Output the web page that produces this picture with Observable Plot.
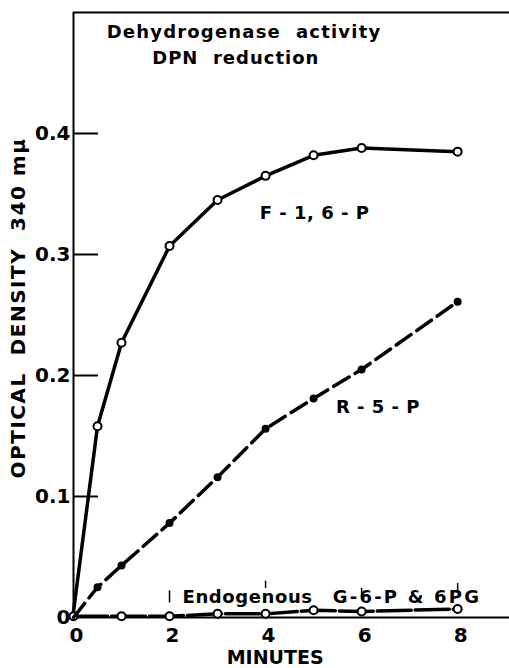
<!DOCTYPE html>
<html>
<head>
<meta charset="utf-8">
<script src="https://cdn.jsdelivr.net/npm/d3@7"></script>
<script src="https://cdn.jsdelivr.net/npm/@observablehq/plot@0.6"></script>
<style>
  html, body { margin: 0; padding: 0; background: white; }
  #chart svg { display: block; }
</style>
</head>
<body>
<div id="chart"></div>
<script>
// Data
const minutesF = [0, 0.5, 1, 2, 3, 4, 5, 6, 8];
const f16p = [0.005, 0.158, 0.227, 0.307, 0.345, 0.365, 0.382, 0.388, 0.385];

const minutesR = [0, 0.5, 1, 2, 3, 4, 5, 6, 8];
const r5p = [0, 0.025, 0.043, 0.078, 0.116, 0.156, 0.181, 0.205, 0.261];

const minutesE = [0, 1, 2, 3, 4, 5, 6, 8];
const endo = [0.001, 0.001, 0.001, 0.003, 0.003, 0.006, 0.005, 0.007];

const xTicks = [0, 2, 4, 6, 8];
const yTicks = [0, 0.1, 0.2, 0.3, 0.4];
const yTickMarks = [0.1, 0.2, 0.3, 0.4];

// annotations anchored at their start (left edge)
const startText = ["Dehydrogenase  activity", "Endogenous", "G-6-P & 6PG"];
const startX = [0.69, 2.27, 5.4];
const startY = [0.484, 0.0165, 0.0165];
// annotations anchored at their middle
const midText = ["DPN  reduction", "F - 1, 6 - P", "R - 5 - P"];
const midX = [3.38, 5.02, 6.34];
const midY = [0.462, 0.334, 0.174];

const smallMarkX = [2, 4, 6, 8];
const smallMarkY1 = [0.012, 0.024, 0.017, 0.021];
const smallMarkY2 = [0.022, 0.030, 0.024, 0.028];

const F = minutesF.map((m, i) => ({m, v: f16p[i]}));
const R = minutesR.map((m, i) => ({m, v: r5p[i]}));
const E = minutesE.map((m, i) => ({m, v: endo[i]}));
const annoStart = startText.map((t, i) => ({t, x: startX[i], y: startY[i]}));
const annoMid = midText.map((t, i) => ({t, x: midX[i], y: midY[i]}));
const marks = smallMarkX.map((x, i) => ({x, y1: smallMarkY1[i], y2: smallMarkY2[i]}));

const font = "DejaVu Sans, sans-serif";

const chart = Plot.plot({
  width: 509,
  height: 668,
  marginLeft: 73,
  marginRight: 0,
  marginTop: 12,
  marginBottom: 51,
  x: {domain: [0, 9.08]},
  y: {domain: [0, 0.5]},
  style: {fontFamily: font, fontSize: "20px", fontWeight: "bold", background: "white", color: "black"},
  marks: [
    // frame
    Plot.ruleX([0], {stroke: "black", strokeWidth: 2}),
    Plot.ruleY([0], {stroke: "black", strokeWidth: 2}),
    Plot.ruleY([0.5], {stroke: "black", strokeWidth: 2}),
    // inward y ticks
    Plot.ruleY(yTickMarks, {x1: 0, x2: 0.52, stroke: "black", strokeWidth: 2}),
    Plot.axisY({ticks: yTicks, tickSize: 0, tickPadding: 3, tickFormat: d => d === 0 ? "0" : d.toFixed(1), label: null, fontSize: 20, fontWeight: "bold"}),
    Plot.axisX({ticks: xTicks, tickSize: 0, tickPadding: 10, label: null, fontSize: 20, fontWeight: "bold", dx: 3}),
    Plot.text(["MINUTES"], {frameAnchor: "bottom", lineAnchor: "middle", x: 4.2, dy: 40, fontSize: 19, fontWeight: "bold", fontFamily: font}),
    Plot.text(["OPTICAL  DENSITY  340 mμ"], {frameAnchor: "left", textAnchor: "middle", lineAnchor: "middle", rotate: -90, dx: -55, dy: -7, fontSize: 20, fontFamily: font, fontWeight: "bold"}),
    // series
    Plot.line(E, {x: "m", y: "v", stroke: "black", strokeWidth: 3.5, strokeDasharray: "34,4"}),
    Plot.dot(E, {x: "m", y: "v", r: 4, fill: "white", stroke: "black", strokeWidth: 2}),
    Plot.line(R, {x: "m", y: "v", stroke: "black", strokeWidth: 3.5, strokeDasharray: "18,7"}),
    Plot.dot(R, {filter: d => d.m > 0, x: "m", y: "v", r: 4, fill: "black"}),
    Plot.line(F, {x: "m", y: "v", stroke: "black", strokeWidth: 3.5}),
    Plot.dot(F, {filter: d => d.m > 0, x: "m", y: "v", r: 4, fill: "white", stroke: "black", strokeWidth: 2}),
    // small vertical marks near the endogenous label
    Plot.ruleX(marks, {x: "x", y1: "y1", y2: "y2", stroke: "black", strokeWidth: 1.5}),
    // annotations
    Plot.text(annoStart, {x: "x", y: "y", text: "t", textAnchor: "start", fontSize: 18, fontWeight: "bold", fontFamily: font, fill: "black"}),
    Plot.text(annoMid, {x: "x", y: "y", text: "t", textAnchor: "middle", fontSize: 18, fontWeight: "bold", fontFamily: font, fill: "black"})
  ]
});
// letter spacing to match the hand lettering
const spacing = {
  "Dehydrogenase  activity": "1.2px",
  "DPN  reduction": "1px",
  "Endogenous": "0.6px",
  "G-6-P & 6PG": "2.2px",
  "F - 1, 6 - P": "0.5px",
  "R - 5 - P": "0.5px",
  "OPTICAL  DENSITY  340 mμ": "1.5px"
};
d3.select(chart).selectAll("text").each(function() {
  const s = spacing[this.textContent];
  if (s) this.style.letterSpacing = s;
});
document.getElementById("chart").appendChild(chart);
</script>
</body>
</html>
